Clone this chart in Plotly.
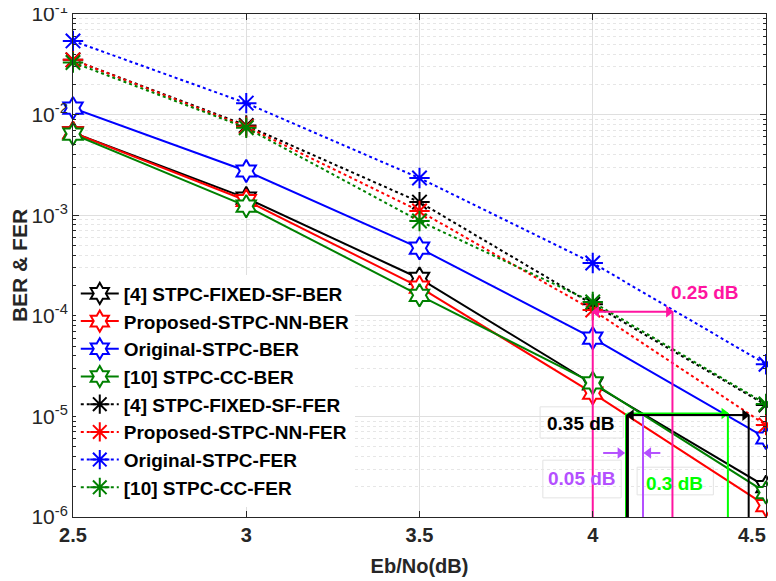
import numpy as np
import plotly.graph_objects as go

# ---------------- data ----------------
ebno = [2.5, 3.0, 3.5, 4.0, 4.5]

fixed_sf_ber = [6.6e-3, 1.48e-3, 2.35e-4, 2.1e-5, 2.0e-6]
proposed_nn_ber = [6.6e-3, 1.40e-3, 1.93e-4, 1.7e-5, 1.3e-6]
original_ber = [1.16e-2, 2.75e-3, 4.7e-4, 6.0e-5, 6.1e-6]
cc_ber = [6.4e-3, 1.23e-3, 1.6e-4, 2.15e-5, 1.75e-6]

fixed_sf_fer = [3.5e-2, 7.8e-3, 1.35e-3, 1.3e-4, 1.3e-5]
proposed_nn_fer = [3.5e-2, 7.6e-3, 1.1e-3, 1.14e-4, 8.2e-6]
original_fer = [5.4e-2, 1.3e-2, 2.34e-3, 3.35e-4, 3.3e-5]
cc_fer = [3.3e-2, 7.4e-3, 8.75e-4, 1.37e-4, 1.33e-5]

names_ber = ["[4] STPC-FIXED-SF-BER", "Proposed-STPC-NN-BER",
             "Original-STPC-BER", "[10] STPC-CC-BER"]
names_fer = ["[4] STPC-FIXED-SF-FER", "Proposed-STPC-NN-FER",
             "Original-STPC-FER", "[10] STPC-CC-FER"]

x_ticks = [2.5, 3.0, 3.5, 4.0, 4.5]
x_ticktext = ["2.5", "3", "3.5", "4", "4.5"]
y_ticks = [1e-6, 1e-5, 1e-4, 1e-3, 1e-2, 1e-1]
y_ticktext = ["10<sup>-6</sup>", "10<sup>-5</sup>", "10<sup>-4</sup>",
              "10<sup>-3</sup>", "10<sup>-2</sup>", "10<sup>-1</sup>"]

# gap markers (dB differences)
y_floor = 1e-6
pink_x = [4.0, 4.23]
pink_y = 1.1e-4
black_x = [4.1, 4.45]
black_y = 1.03e-5
green_x = [4.1, 4.39]
green_y = 1.07e-5
purple_x = 4.145
purple_top = 1.07e-5
purple_arrow_y = 4.33e-6
purple_left = [4.03, 4.09]
purple_right = [4.195, 4.15]

colors = ["#000000", "#FF0000", "#0000FF", "#008000"]
PINK = "#FF14A0"
LIME = "#00FF00"
PURPLE = "#B450FF"
FONT = "Liberation Sans, Arial, sans-serif"
TXT = "#262626"

fig = go.Figure()

for vals, name, c in zip([fixed_sf_ber, proposed_nn_ber, original_ber, cc_ber], names_ber, colors):
    fig.add_trace(go.Scatter(
        x=ebno, y=vals, name=name, mode="lines+markers",
        line=dict(color=c, width=2),
        marker=dict(symbol="hexagram", size=17, color="white",
                    line=dict(color=c, width=2)),
        cliponaxis=False))

for vals, name, c in zip([fixed_sf_fer, proposed_nn_fer, original_fer, cc_fer], names_fer, colors):
    fig.add_trace(go.Scatter(
        x=ebno, y=vals, name=name, mode="lines+markers",
        line=dict(color=c, width=2, dash="dot"),
        marker=dict(symbol="asterisk-open", size=17,
                    line=dict(color=c, width=2)),
        cliponaxis=False))


def seg(xs, ys, color, width=2):
    fig.add_trace(go.Scatter(x=xs, y=ys, mode="lines",
                             line=dict(color=color, width=width),
                             showlegend=False, hoverinfo="skip"))


def head(x, y, color, direction):
    # arrow head whose tip sits at x
    d = 0.011 if direction == "right" else -0.011
    fig.add_trace(go.Scatter(x=[x - d], y=[y], mode="markers",
                             marker=dict(symbol="triangle-" + direction, size=10,
                                         color=color, line=dict(width=0)),
                             showlegend=False, hoverinfo="skip", cliponaxis=False))


# vertical guide lines
seg([pink_x[0]] * 2, [y_floor, pink_y], PINK)
seg([pink_x[1]] * 2, [y_floor, pink_y], PINK)
seg([green_x[0] - 0.004] * 2, [y_floor, green_y], LIME)
seg([green_x[1]] * 2, [y_floor, green_y], LIME)
seg([black_x[0]] * 2, [y_floor, black_y], "#000000", 3)
seg([black_x[1]] * 2, [y_floor, black_y], "#000000")
seg([purple_x] * 2, [y_floor, purple_top], PURPLE)

# horizontal arrows
seg(pink_x, [pink_y] * 2, PINK)
head(pink_x[1], pink_y, PINK, "right")
head(pink_x[0], pink_y, PINK, "left")

seg(green_x, [green_y] * 2, LIME)
head(green_x[1], green_y, LIME, "right")

seg(black_x, [black_y] * 2, "#000000")
head(black_x[1], black_y, "#000000", "right")
head(black_x[0], black_y, "#000000", "left")

seg(purple_left, [purple_arrow_y] * 2, PURPLE)
head(purple_left[1], purple_arrow_y, PURPLE, "right")
seg(purple_right, [purple_arrow_y] * 2, PURPLE)
head(purple_right[1], purple_arrow_y, PURPLE, "left")

annotations = []


def label(x, ylog, text, color):
    annotations.append(dict(x=x, y=ylog, xref="x", yref="y", text=text,
                            showarrow=False,
                            font=dict(family=FONT, size=19, color=color, weight="bold")))


label(4.324, -3.773, "0.25 dB", PINK)
label(3.966, -5.066, "0.35 dB", "#000000")
label(3.969, -5.622, "0.05 dB", PURPLE)
label(4.237, -5.662, "0.3 dB", LIME)

# last x tick label is pulled inside the figure edge (as in the original)
annotations.append(dict(x=x_ticks[-1], y=0, xref="x", yref="paper",
                        text=x_ticktext[-1], showarrow=False,
                        xanchor="center", yanchor="middle", xshift=-14, yshift=-18,
                        font=dict(family=FONT, size=20, color=TXT, weight="bold")))

shapes = []
for (x0, x1, y0, y1) in [(0.674, 0.794, 0.157, 0.219),
                         (0.678, 0.791, 0.038, 0.113),
                         (0.814, 0.924, 0.044, 0.099)]:
    shapes.append(dict(type="rect", xref="paper", yref="paper",
                       x0=x0, x1=x1, y0=y0, y1=y1,
                       fillcolor="white", line=dict(color="#E3E3E3", width=1),
                       layer="between"))

# the page body adds an 8px offset, margins compensate for it
fig.update_layout(
    width=776, height=581,
    margin=dict(l=65, r=18, t=6, b=72, autoexpand=False),
    plot_bgcolor="white", paper_bgcolor="white",
    font=dict(family=FONT, color=TXT),
    annotations=annotations, shapes=shapes,
    legend=dict(x=0.004, y=0.482, xanchor="left", yanchor="top",
                bgcolor="white", borderwidth=0, itemwidth=38,
                font=dict(family=FONT, size=19, color="#000000", weight="bold"),
                tracegroupgap=0),
    showlegend=True,
)

fig.update_xaxes(
    range=[2.5, 4.5], tickvals=x_ticks[:-1], ticktext=x_ticktext[:-1],
    ticks="inside", ticklen=6, tickcolor=TXT, showline=True, linecolor=TXT,
    linewidth=1, mirror="ticks", showgrid=True, gridcolor="#DFDFDF",
    zeroline=False, automargin=False, ticklabeloverflow="allow",
    tickfont=dict(family=FONT, size=20, color=TXT, weight="bold"),
    title=dict(text="Eb/No(dB)", standoff=13,
               font=dict(family=FONT, size=20, color=TXT, weight="bold")))

fig.update_yaxes(
    type="log", range=[-6, -1], tickvals=y_ticks, ticktext=y_ticktext,
    ticks="inside", ticklen=6, tickcolor=TXT, showline=True, linecolor=TXT,
    linewidth=1, mirror="ticks", showgrid=True, gridcolor="#DFDFDF",
    zeroline=False, automargin=False, ticklabeloverflow="allow",
    minor=dict(dtick="D1", ticks="inside", ticklen=3, tickcolor=TXT,
               showgrid=True, gridcolor="#E6E6E6", griddash="dot"),
    tickfont=dict(family=FONT, size=21, color=TXT),
    title=dict(text="BER & FER", standoff=1,
               font=dict(family=FONT, size=21, color=TXT, weight="bold")))

fig.write_html("out.html")
